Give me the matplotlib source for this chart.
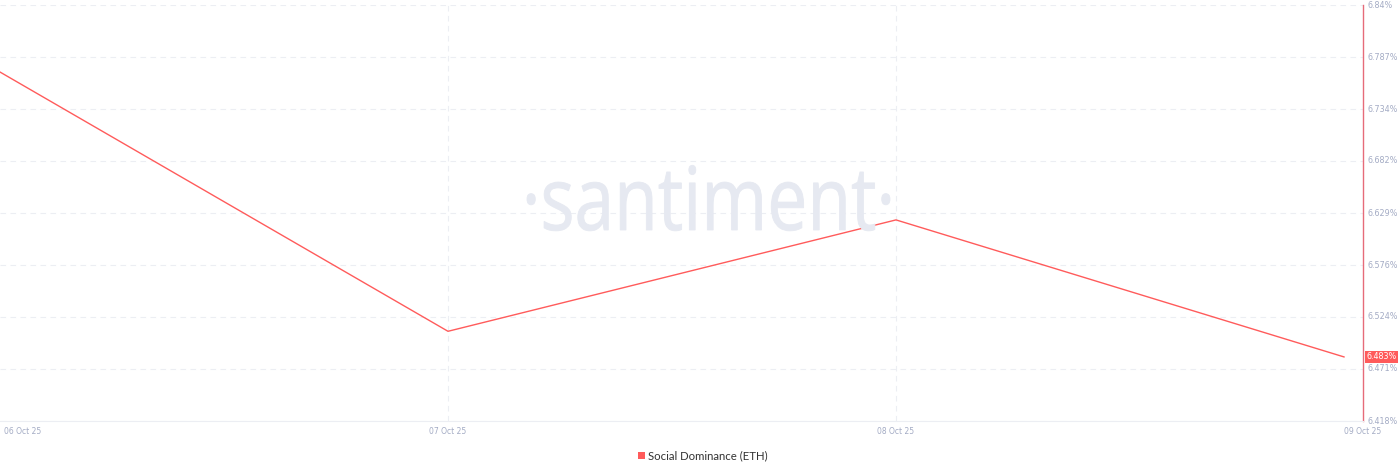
import matplotlib.pyplot as plt
import matplotlib.dates as mdates
import matplotlib.transforms as mtransforms
from matplotlib.textpath import TextPath
from matplotlib.font_manager import FontProperties
from matplotlib.patches import PathPatch, Rectangle
from datetime import datetime

# --- datos ---
dates = ["2025-10-06", "2025-10-07", "2025-10-08", "2025-10-09"]
dominance = [6.772, 6.509, 6.622, 6.483]
tick_labels = ["06 Oct 25", "07 Oct 25", "08 Oct 25", "09 Oct 25"]
y_ticks = [6.418, 6.471, 6.524, 6.576, 6.629, 6.682, 6.734, 6.787, 6.84]
series_name = "Social Dominance (ETH)"

RED = "#ff5b5b"
GRID = "#eceef3"
TICK = "#a3abc4"

x = [datetime.strptime(d, "%Y-%m-%d") for d in dates]
xn = mdates.date2num(x)

W, H = 1400, 473
fig = plt.figure(figsize=(W / 100, H / 100), dpi=100)
ax = fig.add_axes([0, 52 / H, 1363 / W, 416 / H])

ax.plot(xn, dominance, color=RED, lw=1.0, zorder=3)

ax.set_xlim(xn[0], xn[0] + 1363 / 448)
ax.set_ylim(y_ticks[0], y_ticks[-1])

# rejilla: horizontales en cada tick, verticales solo en los días intermedios
ax.set_yticks(y_ticks)
ax.set_xticks(xn)
ax.grid(True, axis="y", color=GRID, ls=(0, (5, 4)), lw=0.8)
for d in xn[1:-1]:
    ax.axvline(d, color=GRID, ls=(0, (5, 4)), lw=0.8, zorder=0.8)

for s in ["top", "left"]:
    ax.spines[s].set_visible(False)
ax.spines["bottom"].set_color("#eceef3")
ax.spines["right"].set_color("#e66b7a")
ax.spines["right"].set_linewidth(1.0)

ax.yaxis.tick_right()
ax.set_yticklabels([f"{v}%" for v in y_ticks], fontsize=5.8, color=TICK)
ax.tick_params(axis="y", length=0, pad=3.5)
for lab in ax.get_yticklabels():
    lab.set_verticalalignment("center")

ax.set_xticklabels(tick_labels, fontsize=5.5, color=TICK)
ax.tick_params(axis="x", length=0, pad=4)
xl = ax.get_xticklabels()
xl[0].set_horizontalalignment("left")
xl[0].set_transform(xl[0].get_transform() + mtransforms.ScaledTranslation(4 / 100, 0, fig.dpi_scale_trans))
xl[-1].set_horizontalalignment("left")

# marca de agua (estrechada para parecerse a la original)
tp = TextPath((0, 0), "·santiment·", size=88, prop=FontProperties(family="Open Sans"))
ext = tp.get_extents()
sx = 363 / ext.width
tr = mtransforms.Affine2D().scale(sx, 1).translate(527 - ext.x0 * sx, H - 230)
fig.add_artist(PathPatch(tp, transform=tr, fc="#e6e9f1", ec="#e6e9f1", lw=0.6, zorder=0.5))

# etiqueta del último valor
ax.annotate(f"{dominance[-1]}%", xy=(1.0, dominance[-1]), xycoords=("axes fraction", "data"),
            xytext=(2.5, 0), textcoords="offset points", ha="left", va="center",
            fontsize=5.8, color="white",
            bbox=dict(boxstyle="square,pad=0.15", fc=RED, ec="none"), annotation_clip=False)

# leyenda
fig.add_artist(Rectangle((638 / W, 1 - 459 / H), 7 / W, 7 / H, transform=fig.transFigure,
                         fc=RED, ec="none"))
fig.text(648 / W, 1 - 455.5 / H, series_name, color="#333333", fontsize=8.2,
         family="Lato", ha="left", va="center")

fig.savefig("out.png", dpi=100, facecolor="white")
